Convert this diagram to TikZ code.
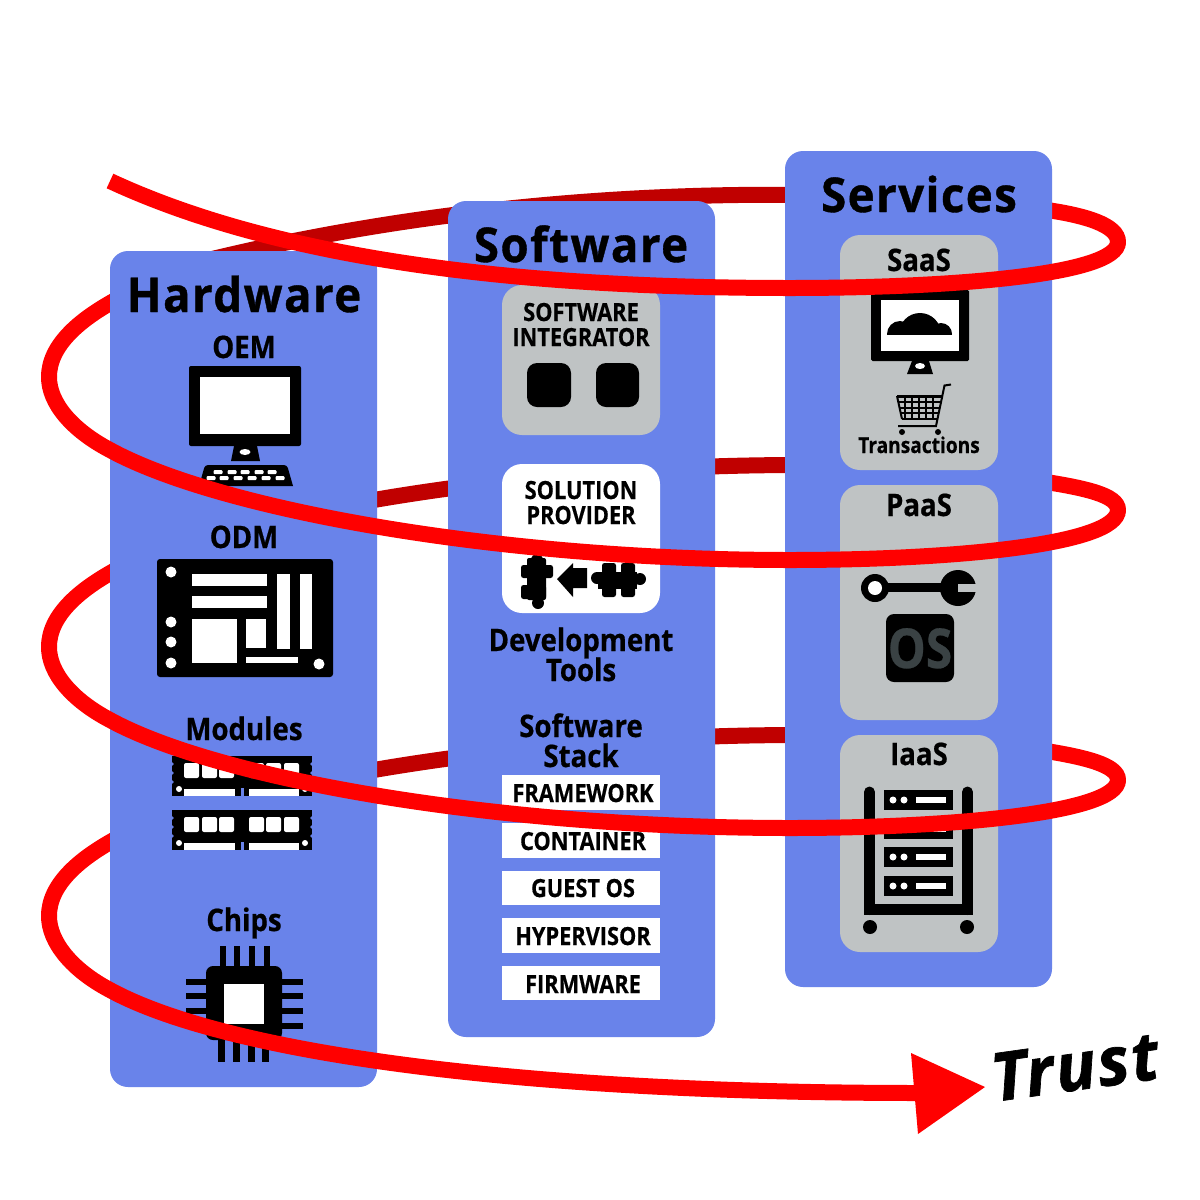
\documentclass[tikz,border=0pt]{standalone}
\usepackage{fontspec}
\setmainfont{Open Sans}
\newfontfamily\lab[FakeStretch=0.87,FakeBold=0.5]{Open Sans}
\newfontfamily\labw[FakeStretch=0.89,FakeBold=0.6]{Open Sans}
\newfontfamily\ttl[FakeStretch=0.95,LetterSpace=3,FakeBold=0.8]{Open Sans}
\newfontfamily\tru[LetterSpace=3,FakeBold=1]{Open Sans}
\definecolor{panelblue}{HTML}{6983EA}
\definecolor{cardgray}{HTML}{BFC3C4}
\definecolor{brightred}{HTML}{FF0000}
\definecolor{darkred}{HTML}{C00000}
\definecolor{osgray}{HTML}{3A4244}
\tikzset{
  panel/.style={fill=panelblue,rounded corners=18pt},
  card/.style={fill=cardgray,rounded corners=20pt},
  wcard/.style={fill=white,rounded corners=20pt},
  band/.style={draw=brightred,line width=16pt},
  bandtail/.style={draw=brightred,line width=16pt,line cap=round},
  bandback/.style={draw=darkred,line width=16pt},
  title/.style={anchor=base,inner sep=0pt,font=\ttl\bfseries\fontsize{48}{48}\selectfont},
  lbl/.style={anchor=base,inner sep=0pt,font=\labw\bfseries\fontsize{31}{31}\selectfont},
  small/.style={anchor=base,inner sep=0pt,font=\lab\bfseries\fontsize{25}{25}\selectfont},
  stackitem/.style={fill=white},
}
\begin{document}
\begin{tikzpicture}[x=1pt,y=-1pt]
\useasboundingbox (0,0) rectangle (1200,1200);
\fill[white] (0,0) rectangle (1200,1200);
% ---------- back part of spiral
\draw[bandback] (800,195) .. controls (650,193) and (430,205) .. (200,262);
\draw[bandback] (800,465) .. controls (650,465) and (450,478) .. (250,525);
\draw[bandback] (800,735) .. controls (650,735) and (450,748) .. (250,795);
\draw[bandtail] (1118,242) .. controls (1118,225) and (1085,215) .. (1040,209);
\draw[bandtail] (1118,510) .. controls (1118,495) and (1085,488) .. (1040,481);
\draw[bandtail] (1118,780) .. controls (1118,765) and (1085,757) .. (1040,750);
\draw[bandtail] (125,295) .. controls (80,318) and (49,345) .. (49,377);
\draw[bandtail] (125,565) .. controls (80,588) and (49,615) .. (49,647);
\draw[bandtail] (125,834) .. controls (80,857) and (49,884) .. (49,916);
% ---------- panels
\fill[panel] (110,251) rectangle (377,1087);
\fill[panel] (448,201) rectangle (715,1037);
\fill[panel] (785,151) rectangle (1052,987);
\node[title] (thw) at (244,312) {Hardware};
\node[title] (tsw) at (581,262) {Software};
\node[title] (tsv) at (919,212) {Services};
% ---------- hardware
\node[lbl] (oem) at (244,358) {OEM};
\fill[rounded corners=2pt] (189,366) rectangle (301,446);
\fill[white] (200,377) rectangle (290,434);
\fill (234,446) -- (257,446) -- (260,461) -- (231,461) -- cycle;
\fill[white] (245,452) ellipse (5.5 and 3);
\fill (199,486) [rounded corners=3pt] -- (205,465) -- (287,465) [sharp corners] -- (293,486) -- cycle;
\foreach \kx in {218,232,245,259,272} \fill[white,rounded corners=1pt] (\kx-4.5,470) rectangle (\kx+4.5,474);
\foreach \kx in {211,224,238,252,266,280} \fill[white,rounded corners=1pt] (\kx-4.5,476) rectangle (\kx+4.5,480);
\node[lbl] (odm) at (244,548) {ODM};
\fill[rounded corners=3pt] (157,559) rectangle (333,677);
\foreach \hx/\hy in {171/572,171/622,171/642,171/663,319/664} \fill[white] (\hx,\hy) circle (5.5);
\fill[white] (192,574) rectangle (267,586);
\fill[white] (192,596) rectangle (267,608);
\fill[white] (192,619) rectangle (237,663);
\fill[white] (246,619) rectangle (266,648);
\fill[white] (277,574) rectangle (290,649);
\fill[white] (300,574) rectangle (312,649);
\fill[white] (246,657) rectangle (298,663);
\node[lbl] (mod) at (244,740) {Modules};
\foreach \my in {756,810} {
  \fill (172,\my) rectangle (312,\my+40);
  \foreach \cx in {184,202,219,249,266,284}
    \fill[white,rounded corners=2pt] (\cx,\my+7) rectangle (\cx+15,\my+22);
  \fill[white] (184,\my+33) rectangle (235,\my+40);
  \fill[white] (249,\my+33) rectangle (299,\my+40);
  \fill[panelblue] (240.5,\my+32) rectangle (243.5,\my+40);
  \fill[white] (179,\my+33) circle (3);
  \fill[white] (305,\my+33) circle (3);
  \foreach \ny in {8,17,26} {
    \fill[panelblue] (172,\my+\ny) circle (1.8);
    \fill[panelblue] (312,\my+\ny) circle (1.8);
  }
}
\node[lbl] (chp) at (244,931) {Chips};
\fill[rounded corners=7pt] (206,966) rectangle (282,1040);
\fill[white] (224,984) rectangle (264,1024);
\foreach \px in {220,234,249,264} \fill (\px,946) rectangle (\px+6,968);
\foreach \px in {218,233,248,262} \fill (\px,1038) rectangle (\px+7,1062);
\foreach \py in {982,996,1011,1026} {
  \fill (186,\py-3) rectangle (208,\py+3);
  \fill (280,\py-3) rectangle (303,\py+3);
}
% ---------- software
\fill[card] (502,285) rectangle (660,435);
\node[small] (si1) at (581,321) {SOFTWARE};
\node[small] (si2) at (581,346) {INTEGRATOR};
\fill[rounded corners=10pt] (527,363) rectangle (571,407);
\fill[rounded corners=10pt] (596,363) rectangle (639,407);
\fill[wcard] (502,464) rectangle (660,613);
\node[small] (sp1) at (581,499) {SOLUTION};
\node[small] (sp2) at (581,524) {PROVIDER};
% puzzle left
\fill[rounded corners=2pt] (527,558) rectangle (546,600);
\fill[rounded corners=2.5pt] (521,565) rectangle (553,578);
\fill[rounded corners=2.5pt] (521,585) rectangle (546,599);
\fill (537,560) circle (6);
\fill (538,603) circle (6);
% arrow
\fill (557,579) -- (573,563) -- (573,568) -- (587,568) -- (587,588) -- (573,588) -- (573,597) -- cycle;
% puzzle right
\fill (598,572) rectangle (637,589);
\fill[rounded corners=2.5pt] (602,563) rectangle (616,597);
\fill[rounded corners=2.5pt] (621,563) rectangle (635,597);
\fill (597,578) circle (6);
\fill (640,579) circle (6);
\node[lbl] (dv1) at (581,651) {Development};
\node[lbl] (dv2) at (581,681) {Tools};
\node[lbl] (ss1) at (581,737) {Software};
\node[lbl] (ss2) at (581,767) {Stack};
\fill[stackitem] (502,775) rectangle (660,810);
\fill[stackitem] (502,823) rectangle (660,858);
\fill[stackitem] (502,871) rectangle (660,905);
\fill[stackitem] (502,918) rectangle (660,953);
\fill[stackitem] (502,966) rectangle (660,1000);
\node[small] (st1) at (583,802) {FRAMEWORK};
\node[small] (st2) at (583,850) {CONTAINER};
\node[small] (st3) at (583,897) {GUEST OS};
\node[small] (st4) at (583,945) {HYPERVISOR};
\node[small] (st5) at (583,993) {FIRMWARE};
% ---------- services
\fill[card] (840,235) rectangle (998,470);
\fill[card] (840,485) rectangle (998,720);
\fill[card] (840,735) rectangle (998,952);
\node[lbl] (saas) at (919,271) {SaaS};
\fill[rounded corners=1.5pt] (871,290) rectangle (969,361);
\fill[white] (881,300) rectangle (959,351);
\begin{scope}
  \clip (881,300) rectangle (959,334);
  \fill (900,334) circle (13);
  \fill (920,334) circle (21);
  \fill (941,334) circle (11);
\end{scope}
\fill (912,361) -- (929,361) -- (933,374) -- (907,374) -- cycle;
\fill[white] (920,366) ellipse (5 and 3);
% cart
\draw[line width=2pt] (951,384.5) -- (944.5,385.5) -- (936,426) -- (898,426);
\draw[line width=2.2pt] (897,396.5) -- (942,396.5);
\draw[line width=1.5pt] (898,402) -- (941,402);
\draw[line width=1.5pt] (899,408) -- (940,408);
\draw[line width=1.5pt] (900,413) -- (939,413);
\draw[line width=2pt] (901.5,419) -- (937,419);
\draw[line width=2pt] (897,396) -- (902,419);
\foreach \cx in {905,912,919,926,933} \draw[line width=1.5pt] (\cx,396) -- (\cx,419);
\fill (902,432) circle (3);
\fill (938,432) circle (3);
\node[anchor=base,inner sep=0pt,font=\lab\bfseries\fontsize{22}{22}\selectfont] (tra) at (919,453) {Transactions};
\node[lbl] (paas) at (919,516) {PaaS};
\fill (875,588) circle (14);
\fill[white] (875,588) circle (7);
\fill (887,583) rectangle (943,592);
\fill (958,588) circle (18);
\fill[cardgray] (958,584) rectangle (978,592);
\fill[rounded corners=8pt] (886,614) rectangle (954,682);
\node[anchor=base,inner sep=0pt,text=osgray,font=\lab\bfseries\fontsize{55}{55}\selectfont] (os) at (920,668) {OS};
\node[lbl] (iaas) at (919,765) {IaaS};
\draw[line width=11pt,line cap=round] (869.5,792) -- (869.5,909.5);
\draw[line width=11pt,line cap=round] (967.5,792) -- (967.5,909.5);
\fill (864,904) rectangle (973,915);
\fill (870,927) circle (7);
\fill (967,927) circle (7);
\foreach \sy in {790,819,847,876} {
  \fill (884,\sy) rectangle (953,\sy+20);
  \fill[white] (893,\sy+10) circle (3.5);
  \fill[white] (904,\sy+10) circle (3.5);
  \fill[white] (916,\sy+7) rectangle (946,\sy+13);
}
% ---------- front part of spiral
\draw[band] (110,181) .. controls (280,260) and (520,288) .. (790,288) .. controls (950,288) and (1118,275) .. (1118,242);
\draw[band] (49,377) .. controls (49,403) and (72,430) .. (110,450) .. controls (220,510) and (500,560) .. (790,560) .. controls (950,560) and (1118,545) .. (1118,510);
\draw[band] (49,647) .. controls (49,673) and (72,700) .. (110,720) .. controls (220,780) and (500,828) .. (790,828) .. controls (950,828) and (1118,813) .. (1118,780);
\draw[band] (49,916) .. controls (49,942) and (72,970) .. (110,990) .. controls (220,1050) and (500,1093) .. (920,1093);
\fill[brightred] (911,1053) -- (985,1087) -- (918,1134) -- cycle;
\node[anchor=base,inner sep=0pt,rotate=8,font=\tru\bfseries\itshape\fontsize{67}{67}\selectfont] (trust) at (1078,1090) {Trust};
\end{tikzpicture}
\end{document}
